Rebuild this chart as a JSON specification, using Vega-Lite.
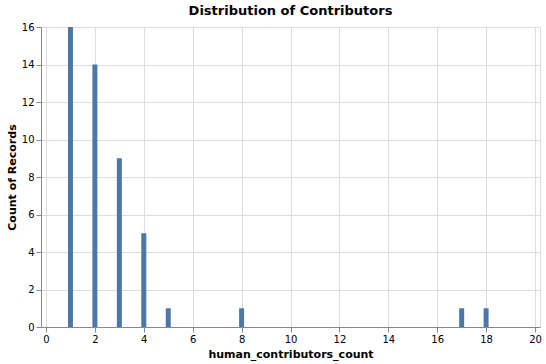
{
  "$schema": "https://vega.github.io/schema/vega-lite/v6.json",
  "width": 499,
  "height": 300,
  "autosize": {"type": "none"},
  "padding": {"left": 41, "top": 27, "right": 6, "bottom": 37},
  "config": {"font": "DejaVu Sans"},
  "title": "Distribution of Contributors",
  "data": {"values": [
    {"human_contributors_count": 1, "n": 16},
    {"human_contributors_count": 2, "n": 14},
    {"human_contributors_count": 3, "n": 9},
    {"human_contributors_count": 4, "n": 5},
    {"human_contributors_count": 5, "n": 1},
    {"human_contributors_count": 8, "n": 1},
    {"human_contributors_count": 17, "n": 1},
    {"human_contributors_count": 18, "n": 1}
  ]},
  "mark": "bar",
  "encoding": {
    "x": {"field": "human_contributors_count", "type": "quantitative", "scale": {"domain": [0, 20]}, "axis": {"labelFlush": true}},
    "y": {"field": "n", "type": "quantitative", "title": "Count of Records"}
  }
}
